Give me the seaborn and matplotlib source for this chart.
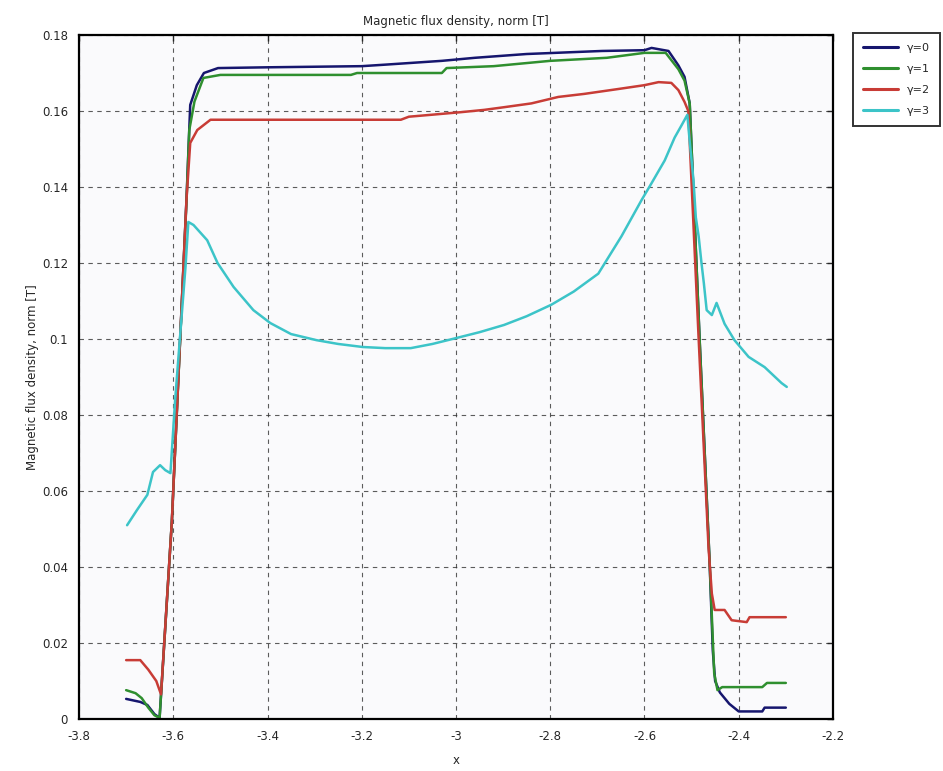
import numpy as np
import pandas as pd
import matplotlib
matplotlib.use("Agg")
import matplotlib.pyplot as plt
import seaborn as sns

# Line profiles of |B| along x for four values of gamma
x_g0 = [-3.70, -3.67, -3.655, -3.64, -3.629, -3.603, -3.572, -3.564, -3.55, -3.535,
        -3.505, -3.40, -3.20, -3.15, -3.03, -2.96, -2.85, -2.69, -2.60, -2.585,
        -2.549, -2.528, -2.515, -2.504, -2.483, -2.462, -2.455, -2.45, -2.44, -2.42,
        -2.40, -2.35, -2.345, -2.30]
y_g0 = [0.0053, 0.0045, 0.0037, 0.0013, 0.0003, 0.052, 0.1366, 0.1616, 0.1668, 0.170,
        0.1713, 0.1715, 0.1718, 0.1722, 0.1732, 0.1740, 0.1750, 0.1758, 0.1760, 0.1766,
        0.1758, 0.172, 0.169, 0.162, 0.100, 0.042, 0.018, 0.010, 0.007, 0.004,
        0.002, 0.002, 0.003, 0.003]

x_g1 = [-3.70, -3.68, -3.667, -3.653, -3.64, -3.629, -3.603, -3.572, -3.566, -3.555,
        -3.536, -3.50, -3.223, -3.21, -3.03, -3.02, -2.92, -2.80, -2.68, -2.60,
        -2.555, -2.528, -2.515, -2.504, -2.483, -2.462, -2.452, -2.445, -2.435, -2.35,
        -2.34, -2.30]
y_g1 = [0.0076, 0.0068, 0.0055, 0.003, 0.001, 0.0003, 0.052, 0.136, 0.155, 0.1625,
        0.1687, 0.1695, 0.1695, 0.1700, 0.1700, 0.1713, 0.1718, 0.1732, 0.1740, 0.1753,
        0.1753, 0.171, 0.168, 0.162, 0.100, 0.042, 0.012, 0.0076, 0.0084, 0.0084,
        0.0095, 0.0095]

x_g2 = [-3.70, -3.67, -3.653, -3.636, -3.626, -3.603, -3.572, -3.564, -3.549, -3.521,
        -3.117, -3.10, -3.053, -2.989, -2.940, -2.898, -2.840, -2.783, -2.728, -2.655,
        -2.600, -2.570, -2.543, -2.528, -2.515, -2.507, -2.485, -2.464, -2.457, -2.451,
        -2.43, -2.415, -2.383, -2.377, -2.30]
y_g2 = [0.0155, 0.0155, 0.013, 0.010, 0.0065, 0.052, 0.1366, 0.1516, 0.155, 0.1577,
        0.1577, 0.1585, 0.1590, 0.1597, 0.1603, 0.1610, 0.1620, 0.1637, 0.1645, 0.1658,
        0.1668, 0.1676, 0.1674, 0.1655, 0.1624, 0.160, 0.100, 0.045, 0.033, 0.0287,
        0.0287, 0.026, 0.0255, 0.0268, 0.0268]

x_g3 = [-3.698, -3.677, -3.655, -3.649, -3.643, -3.628, -3.617, -3.606, -3.596, -3.585,
        -3.574, -3.568, -3.557, -3.528, -3.506, -3.472, -3.430, -3.394, -3.35, -3.296,
        -3.25, -3.198, -3.15, -3.096, -3.05, -2.998, -2.95, -2.898, -2.85, -2.798,
        -2.75, -2.698, -2.649, -2.606, -2.585, -2.557, -2.536, -2.521, -2.509, -2.504,
        -2.496, -2.491, -2.485, -2.479, -2.474, -2.468, -2.457, -2.447, -2.430, -2.409,
        -2.379, -2.345, -2.309, -2.298]
y_g3 = [0.051, 0.055, 0.059, 0.062, 0.065, 0.0668, 0.0655, 0.0647, 0.084, 0.1016,
        0.119, 0.1308, 0.130, 0.126, 0.120, 0.1137, 0.1076, 0.1042, 0.1013, 0.0997,
        0.0987, 0.0979, 0.0976, 0.0976, 0.0987, 0.1003, 0.1018, 0.1037, 0.106, 0.109,
        0.1125, 0.1172, 0.127, 0.1366, 0.141, 0.147, 0.153, 0.1563, 0.159, 0.152,
        0.1418, 0.132, 0.127, 0.120, 0.1147, 0.1076, 0.1063, 0.1095, 0.104, 0.0997,
        0.0953, 0.0926, 0.0884, 0.0874]

labels = ["γ=0", "γ=1", "γ=2", "γ=3"]
colors = ["#16166e", "#2f8f2f", "#c83c36", "#3cc4c8"]

x_ticks = [-3.8, -3.6, -3.4, -3.2, -3.0, -2.8, -2.6, -2.4, -2.2]
x_tick_labels = ["-3.8", "-3.6", "-3.4", "-3.2", "-3", "-2.8", "-2.6", "-2.4", "-2.2"]
y_ticks = [0, 0.02, 0.04, 0.06, 0.08, 0.10, 0.12, 0.14, 0.16, 0.18]
y_tick_labels = ["0", "0.02", "0.04", "0.06", "0.08", "0.1", "0.12", "0.14", "0.16", "0.18"]

frames = []
for lab, xs, ys in zip(labels, [x_g0, x_g1, x_g2, x_g3], [y_g0, y_g1, y_g2, y_g3]):
    frames.append(pd.DataFrame({"x": xs, "B": ys, "gamma": lab}))
df = pd.concat(frames, ignore_index=True)

sns.set_style("white")
plt.rcParams["font.family"] = ["DejaVu Sans"]

fig = plt.figure(figsize=(9.43, 7.71), dpi=100)
ax = fig.add_axes([0.0838, 0.0674, 0.7995, 0.8872])
ax.set_facecolor("#fafafc")

sns.lineplot(data=df, x="x", y="B", hue="gamma", palette=dict(zip(labels, colors)),
             hue_order=labels, estimator=None, sort=False, linewidth=1.8, ax=ax)

ax.set_xlim(-3.8, -2.2)
ax.set_ylim(0, 0.18)
ax.set_xticks(x_ticks)
ax.set_xticklabels(x_tick_labels, fontsize=8.5)
ax.set_yticks(y_ticks)
ax.set_yticklabels(y_tick_labels, fontsize=8.5)
ax.tick_params(direction="in", length=4, width=1, top=True, right=True, pad=8)
ax.grid(True, color="#333333", linestyle=(0, (4, 4)), linewidth=0.8, alpha=0.8)
for s in ax.spines.values():
    s.set_color("black")
    s.set_linewidth(1.6)

ax.set_title("Magnetic flux density, norm [T]", fontsize=8.5, pad=7)
ax.set_xlabel("x", fontsize=8.5, labelpad=8)
ax.set_ylabel("Magnetic flux density, norm [T]", fontsize=8.5, labelpad=2)

leg = ax.legend(loc="upper left", bbox_to_anchor=(1.026, 1.003), fontsize=8,
                frameon=True, fancybox=False, borderpad=0.9, handlelength=3.2,
                labelspacing=1.0, borderaxespad=0)
leg.get_frame().set_edgecolor("black")
leg.get_frame().set_linewidth(1.4)
for line in leg.get_lines():
    line.set_linewidth(2.2)

fig.savefig("out.png", dpi=100, facecolor="white")
